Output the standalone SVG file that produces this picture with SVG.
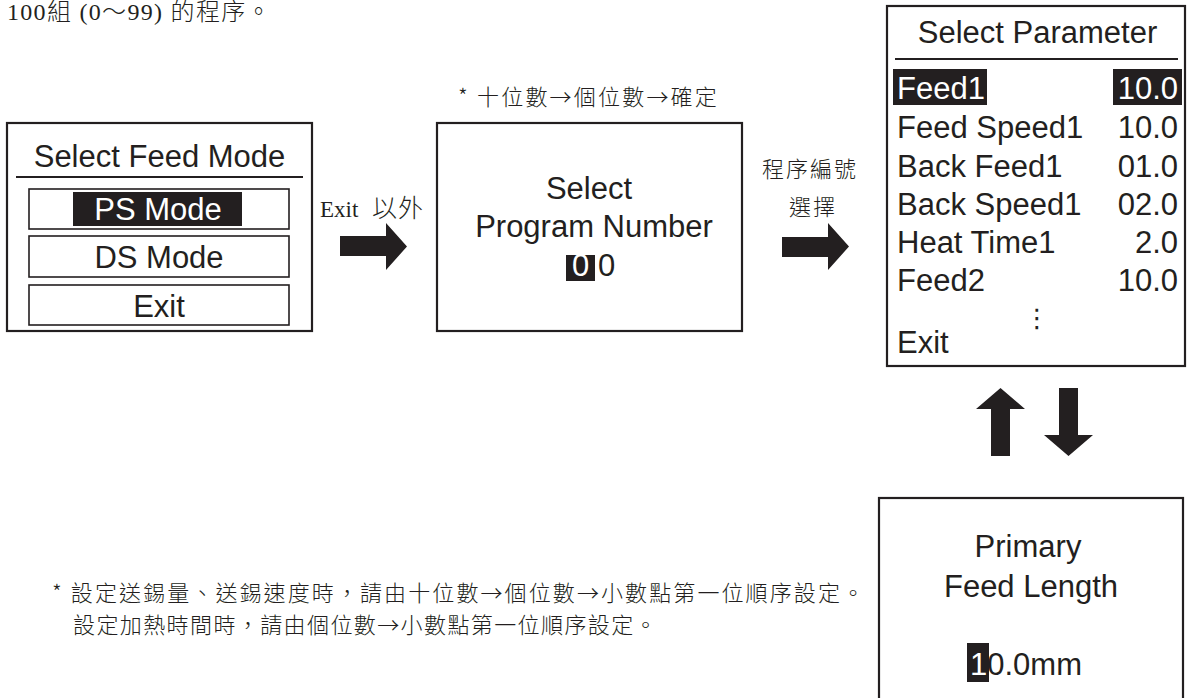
<svg xmlns="http://www.w3.org/2000/svg" width="1190" height="698" viewBox="0 0 1190 698">
<style>
.box{fill:none;stroke:#231f20;stroke-width:2.2}
.sub{fill:none;stroke:#231f20;stroke-width:1.6}
.sep{stroke:#231f20;stroke-width:2.2}
.hl{fill:#231f20}
.lcd{font-family:"Liberation Sans",Arial,sans-serif;font-size:31px;fill:#231f20}
.inv{fill:#ffffff}
.mid{text-anchor:middle}
.end{text-anchor:end}
.cjk{font-family:"Noto Sans CJK TC","Noto Sans CJK SC",sans-serif;font-size:22px;font-weight:300;fill:#231f20}
.ser{font-family:"Liberation Serif","Noto Sans CJK TC",serif;font-weight:300;fill:#231f20}
.arr{fill:#231f20}
</style>
<rect width="1190" height="698" fill="#ffffff"/>

<g id="intro">
<text class="ser" x="7" y="20" font-size="24" letter-spacing="1.3">100組 (0〜99) 的程序。</text>
</g>

<g id="select-feed-mode">
<rect class="box" x="7" y="123" width="305" height="208"/>
<text class="lcd mid" x="159.5" y="167" font-size="32">Select Feed Mode</text>
<line class="sep" x1="16" y1="177" x2="303" y2="177"/>
<rect class="sub" x="29" y="189" width="260" height="40"/>
<rect class="hl" x="73" y="192" width="169" height="34"/>
<text class="lcd mid inv" x="158" y="220" font-size="32">PS Mode</text>
<rect class="sub" x="29" y="236" width="260" height="41"/>
<text class="lcd mid" x="159" y="268" font-size="32">DS Mode</text>
<rect class="sub" x="29" y="285" width="260" height="40"/>
<text class="lcd mid" x="159" y="317" font-size="32">Exit</text>
</g>

<g id="select-program-number">
<text class="cjk" x="458" y="105" letter-spacing="2.2">* 十位數→個位數→確定</text>
<rect class="box" x="437" y="123" width="305" height="208"/>
<text class="lcd mid" x="589" y="199">Select</text>
<text class="lcd mid" x="594" y="237">Program Number</text>
<rect class="hl" x="566" y="255" width="29" height="26"/>
<text class="lcd inv" x="572" y="276">0</text>
<text class="lcd" x="598" y="276">0</text>
</g>

<g id="select-parameter">
<rect class="box" x="887" y="6" width="298" height="360"/>
<text class="lcd mid" x="1037.5" y="43">Select Parameter</text>
<line class="sep" x1="895" y1="59" x2="1178" y2="59"/>
<rect class="hl" x="893" y="69" width="94" height="36"/>
<rect class="hl" x="1113" y="69" width="69" height="36"/>
<text class="lcd inv" x="897" y="99">Feed1</text>
<text class="lcd inv end" x="1178" y="99">10.0</text>
<text class="lcd" x="897" y="138">Feed Speed1</text>
<text class="lcd end" x="1178" y="138">10.0</text>
<text class="lcd" x="897" y="177">Back Feed1</text>
<text class="lcd end" x="1178" y="177">01.0</text>
<text class="lcd" x="897" y="215">Back Speed1</text>
<text class="lcd end" x="1178" y="215">02.0</text>
<text class="lcd" x="897" y="253">Heat Time1</text>
<text class="lcd end" x="1178" y="253">2.0</text>
<text class="lcd" x="897" y="291">Feed2</text>
<text class="lcd end" x="1178" y="291">10.0</text>
<text class="mid" x="1037" y="327" font-family="DejaVu Sans,sans-serif" font-size="26" fill="#231f20">⋮</text>
<text class="lcd" x="897" y="353">Exit</text>
</g>

<g id="primary-feed-length">
<rect class="box" x="879" y="498" width="304" height="230"/>
<text class="lcd mid" x="1028" y="557">Primary</text>
<text class="lcd mid" x="1031" y="597">Feed Length</text>
<rect class="hl" x="967" y="643" width="22" height="39"/>
<text class="lcd" x="970" y="675"><tspan class="inv">1</tspan>0.0mm</text>
</g>

<g id="note">
<text class="cjk" x="52" y="601" letter-spacing="2.1">* 設定送錫量、送錫速度時，請由十位數→個位數→小數點第一位順序設定。</text>
<text class="cjk" x="73" y="633" letter-spacing="1.4">設定加熱時間時，請由個位數→小數點第一位順序設定。</text>
</g>

<g id="connectors">
<polygon class="arr" points="340,236 386,236 386,223 407,246.5 386,270 386,256 340,256"/>
<text class="ser" x="320" y="217" font-size="23">Exit<tspan x="372" font-size="25" letter-spacing="1">以外</tspan></text>
<polygon class="arr" points="782,237 828,237 828,223 849,246.5 828,270 828,257 782,257"/>
<text class="cjk" x="762" y="177" font-size="25" letter-spacing="2">程序編號</text>
<text class="cjk" x="789" y="215" font-size="25" letter-spacing="2">選擇</text>
<polygon class="arr" points="1000.5,388 1025,409 1010,409 1010,456 991,456 991,409 976,409"/>
<polygon class="arr" points="1059,388 1078,388 1078,435 1093,435 1068.5,456 1044,435 1059,435"/>
</g>
</svg>
